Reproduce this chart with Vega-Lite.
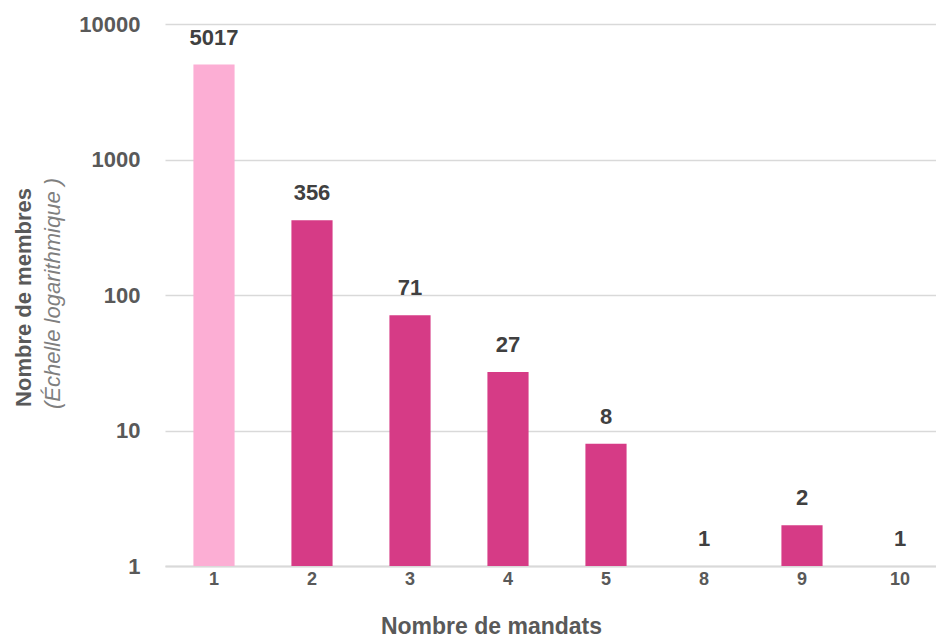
{
  "$schema": "https://vega.github.io/schema/vega-lite/v6.json",
  "autosize": "none",
  "padding": {"left": 165, "top": 24, "right": 0, "bottom": 73},
  "width": 784,
  "height": 542,
  "background": "white",
  "config": {
    "font": "Liberation Sans",
    "view": {"stroke": null}
  },
  "data": {
    "values": [
      {"mandats": "1", "membres": 5017, "groupe": "premier"},
      {"mandats": "2", "membres": 356, "groupe": "autres"},
      {"mandats": "3", "membres": 71, "groupe": "autres"},
      {"mandats": "4", "membres": 27, "groupe": "autres"},
      {"mandats": "5", "membres": 8, "groupe": "autres"},
      {"mandats": "8", "membres": 1, "groupe": "autres"},
      {"mandats": "9", "membres": 2, "groupe": "autres"},
      {"mandats": "10", "membres": 1, "groupe": "autres"}
    ]
  },
  "encoding": {
    "x": {
      "field": "mandats",
      "type": "ordinal",
      "sort": ["1", "2", "3", "4", "5", "8", "9", "10"],
      "scale": {"paddingInner": 0.58, "paddingOuter": 0.29},
      "axis": {
        "title": "Nombre de mandats",
        "labelAngle": 0,
        "labelFont": "Liberation Sans",
        "labelFontSize": 18,
        "labelFontWeight": "bold",
        "labelColor": "#595959",
        "labelPadding": 4,
        "ticks": false,
        "domainColor": "#d9d9d9",
        "domainWidth": 2,
        "titleFont": "Liberation Sans",
        "titleFontSize": 23,
        "titleFontWeight": "bold",
        "titleColor": "#595959",
        "titlePadding": 27,
        "titleX": 326,
        "titleAnchor": "middle"
      }
    }
  },
  "layer": [
    {
      "mark": {"type": "bar"},
      "encoding": {
        "y": {
          "field": "membres",
          "type": "quantitative",
          "stack": null,
          "scale": {"type": "log", "domain": [1, 10000], "nice": false},
          "axis": {
            "values": [1, 10, 100, 1000, 10000],
            "format": "d",
            "title": "Nombre de membres",
            "titleFont": "Liberation Sans",
            "titleFontSize": 22,
            "titleFontWeight": "bold",
            "titleColor": "#595959",
            "titleAngle": -90,
            "titleBaseline": "middle",
            "titleX": -142,
            "titleY": 273,
            "titleAnchor": "middle",
            "labelFont": "Liberation Sans",
            "labelFontSize": 22,
            "labelFontWeight": "bold",
            "labelColor": "#595959",
            "labelPadding": 25,
            "ticks": false,
            "domain": false,
            "gridColor": "#d9d9d9",
            "gridWidth": 1.3
          }
        },
        "color": {
          "field": "groupe",
          "type": "nominal",
          "scale": {"domain": ["premier", "autres"], "range": ["#fcaed4", "#d63b86"]},
          "legend": null
        }
      }
    },
    {
      "mark": {
        "type": "text",
        "baseline": "middle",
        "dy": -27,
        "font": "Liberation Sans",
        "fontSize": 22,
        "fontWeight": "bold",
        "color": "#404040"
      },
      "encoding": {
        "y": {
          "field": "membres",
          "type": "quantitative",
          "scale": {"type": "log", "domain": [1, 10000], "nice": false},
          "axis": {
            "orient": "right",
            "labels": false,
            "ticks": false,
            "domain": false,
            "grid": false,
            "title": "(Échelle logarithmique )",
            "titleFont": "Liberation Sans",
            "titleFontSize": 22,
            "titleFontWeight": "normal",
            "titleFontStyle": "italic",
            "titleColor": "#7f7f7f",
            "titleAngle": -90,
            "titleBaseline": "middle",
            "titleX": -897,
            "titleY": 269,
            "titleAnchor": "middle"
          }
        },
        "text": {"field": "membres", "type": "quantitative", "format": "d"}
      }
    }
  ],
  "resolve": {"scale": {"y": "independent"}}
}
